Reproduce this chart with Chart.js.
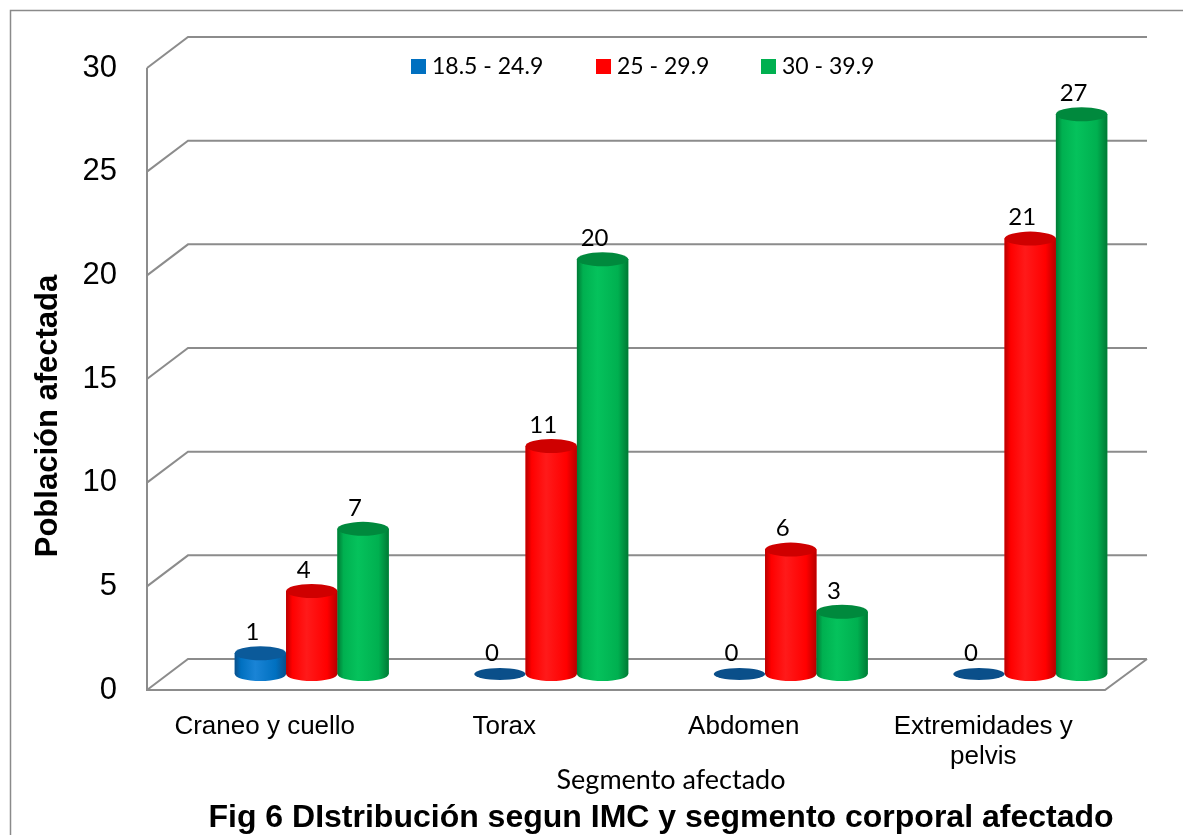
<!DOCTYPE html>
<html>
<head>
<meta charset="utf-8">
<script src="https://cdn.jsdelivr.net/npm/chart.js@4.4.0/dist/chart.umd.min.js"></script>
<style>
  html, body { margin: 0; padding: 0; background: #fff; }
  #wrap { width: 1183px; height: 835px; position: relative; }
</style>
</head>
<body>
<div id="wrap"><canvas id="myChart" width="1183" height="835"></canvas></div>
<script>
// datos
const segmentos = ['Craneo y cuello', 'Torax', 'Abdomen', ['Extremidades y', 'pelvis']];
const imcNormal = [1, 0, 0, 0];        // 18.5 - 24.9
const imcSobrepeso = [4, 11, 6, 21];   // 25 - 29.9
const imcObesidad = [7, 20, 3, 27];    // 30 - 39.9
const seriesNombres = ['18.5 - 24.9', '25 - 29.9', '30 - 39.9'];
const yTicks = [0, 5, 10, 15, 20, 25, 30];

const colores = ['#0070c0', '#ff0000', '#00b050'];
const coloresTapa = ['#0b5a9a', '#cf0000', '#00893d'];
const coloresOscuros = ['#0a4f8a', '#b80000', '#007a35'];
const coloresClaros = ['#1a84d6', '#ff1a1a', '#05c25c'];

// geometria de la caja 3D (respecto al plano de las barras)
const FRONT = { dx: -45, dy: 16 };
const BACK = { dx: -4, dy: -15 };
const RY = 7;

function cilindro(ctx, x, w, top, base, i) {
    const l = x - w / 2, r = x + w / 2;
    if (base - top < 0.5) {
        ctx.fillStyle = coloresOscuros[i];
        ctx.beginPath();
        ctx.ellipse(x, base, w / 2, RY - 1, 0, 0, Math.PI * 2);
        ctx.fill();
        return;
    }
    const g = ctx.createLinearGradient(l, 0, r, 0);
    g.addColorStop(0, coloresOscuros[i]);
    g.addColorStop(0.12, colores[i]);
    g.addColorStop(0.4, coloresClaros[i]);
    g.addColorStop(0.8, colores[i]);
    g.addColorStop(1, coloresOscuros[i]);
    ctx.fillStyle = g;
    ctx.beginPath();
    ctx.moveTo(l, top);
    ctx.lineTo(l, base);
    ctx.ellipse(x, base, w / 2, RY, 0, Math.PI, 0, true);
    ctx.lineTo(r, top);
    ctx.closePath();
    ctx.fill();
    ctx.fillStyle = coloresTapa[i];
    ctx.beginPath();
    ctx.ellipse(x, top, w / 2, RY, 0, 0, Math.PI * 2);
    ctx.fill();
}

const caja3d = {
    id: 'caja3d',
    beforeDraw(chart) {
        const ctx = chart.ctx;
        ctx.save();
        ctx.fillStyle = '#fff';
        ctx.fillRect(0, 0, chart.width, chart.height);
        ctx.strokeStyle = '#8a8a8a';
        ctx.lineWidth = 1.5;
        ctx.strokeRect(10.5, 10.5, 1300, 900);
        ctx.restore();
    },
    beforeDatasetsDraw(chart) {
        const ctx = chart.ctx;
        const ys = chart.scales.y;
        const a = chart.chartArea;
        ctx.save();
        ctx.strokeStyle = '#8c8c8c';
        ctx.lineWidth = 2;
        const xf = a.left + FRONT.dx, xb = a.left + BACK.dx;
        const xbr = a.right - 3;
        yTicks.forEach(v => {
            const y = ys.getPixelForValue(v);
            ctx.beginPath();
            ctx.moveTo(xf, y + FRONT.dy);
            ctx.lineTo(xb, y + BACK.dy);
            ctx.lineTo(xbr, y + BACK.dy);
            ctx.stroke();
        });
        // eje frontal izquierdo y piso
        const y0 = ys.getPixelForValue(0);
        ctx.beginPath();
        ctx.moveTo(xf, ys.getPixelForValue(30) + FRONT.dy);
        ctx.lineTo(xf, y0 + FRONT.dy);
        ctx.lineTo(xbr - 42, y0 + FRONT.dy);
        ctx.lineTo(xbr, y0 + BACK.dy);
        ctx.stroke();
        ctx.restore();
    },
    afterDatasetsDraw(chart) {
        const ctx = chart.ctx;
        ctx.save();
        chart.data.datasets.forEach((ds, i) => {
            const meta = chart.getDatasetMeta(i);
            meta.data.forEach((bar, j) => {
                cilindro(ctx, bar.x, bar.width, bar.y, bar.base, i);
            });
        });
        // etiquetas de datos
        ctx.fillStyle = '#000';
        ctx.font = '24px Lato, "Open Sans", sans-serif';
        ctx.textAlign = 'center';
        ctx.textBaseline = 'middle';
        chart.data.datasets.forEach((ds, i) => {
            const meta = chart.getDatasetMeta(i);
            meta.data.forEach((bar, j) => {
                ctx.fillText(String(ds.data[j]), bar.x - 8, bar.y - 21);
            });
        });
        ctx.restore();
    },
    afterDraw(chart) {
        const ctx = chart.ctx;
        ctx.save();
        // leyenda
        ctx.font = '23px Lato, "Open Sans", sans-serif';
        ctx.textBaseline = 'middle';
        ctx.textAlign = 'left';
        const legX = [411, 596, 761];
        chart.data.datasets.forEach((ds, i) => {
            ctx.fillStyle = colores[i];
            ctx.fillRect(legX[i], 59, 15, 15);
            ctx.fillStyle = '#000';
            ctx.fillText(ds.label, legX[i] + 21, 67);
        });
        // titulo eje y
        ctx.save();
        ctx.translate(48, 416);
        ctx.rotate(-Math.PI / 2);
        ctx.font = 'bold 31px "Liberation Sans", Arial, sans-serif';
        ctx.textAlign = 'center';
        ctx.fillText('Población afectada', 0, 0);
        ctx.restore();
        // titulo de la figura
        ctx.font = 'bold 32px "Liberation Sans", Arial, sans-serif';
        ctx.textAlign = 'center';
        ctx.fillText('Fig 6 DIstribución segun IMC y segmento corporal afectado', 661, 818);
        ctx.restore();
    }
};

new Chart(document.getElementById('myChart'), {
    type: 'bar',
    data: {
        labels: segmentos,
        datasets: [
            { label: seriesNombres[0], data: imcNormal, backgroundColor: colores[0] },
            { label: seriesNombres[1], data: imcSobrepeso, backgroundColor: colores[1] },
            { label: seriesNombres[2], data: imcObesidad, backgroundColor: colores[2] }
        ]
    },
    options: {
        responsive: false,
        animation: false,
        layout: { padding: { left: 0, right: 33, top: 52, bottom: 0 } },
        datasets: { bar: { categoryPercentage: 0.643, barPercentage: 1 } },
        plugins: {
            legend: { display: false },
            title: { display: false },
            tooltip: { enabled: false }
        },
        scales: {
            x: {
                grid: { display: false },
                border: { display: false },
                afterFit: s => { s.height = 161; s.paddingLeft = 0; s.paddingRight = 0; },
                ticks: {
                    color: '#000',
                    padding: 30,
                    labelOffset: -47,
                    maxRotation: 0,
                    font: { family: '"Liberation Sans", Arial, sans-serif', size: 26, lineHeight: 1.15 }
                },
                title: {
                    display: true,
                    text: 'Segmento afectado',
                    color: '#000',
                    padding: { top: 0, bottom: 39 },
                    font: { family: 'Lato, "Open Sans", sans-serif', size: 27 }
                }
            },
            y: {
                min: 0,
                max: 30,
                grid: { display: false },
                border: { display: false },
                afterFit: s => { s.width = 192; s.paddingTop = 0; s.paddingBottom = 0; },
                ticks: {
                    stepSize: 5,
                    color: '#000',
                    padding: 67,
                    labelOffset: 16,
                    font: { family: '"Liberation Sans", Arial, sans-serif', size: 31 }
                }
            }
        }
    },
    plugins: [caja3d]
});
</script>
</body>
</html>
